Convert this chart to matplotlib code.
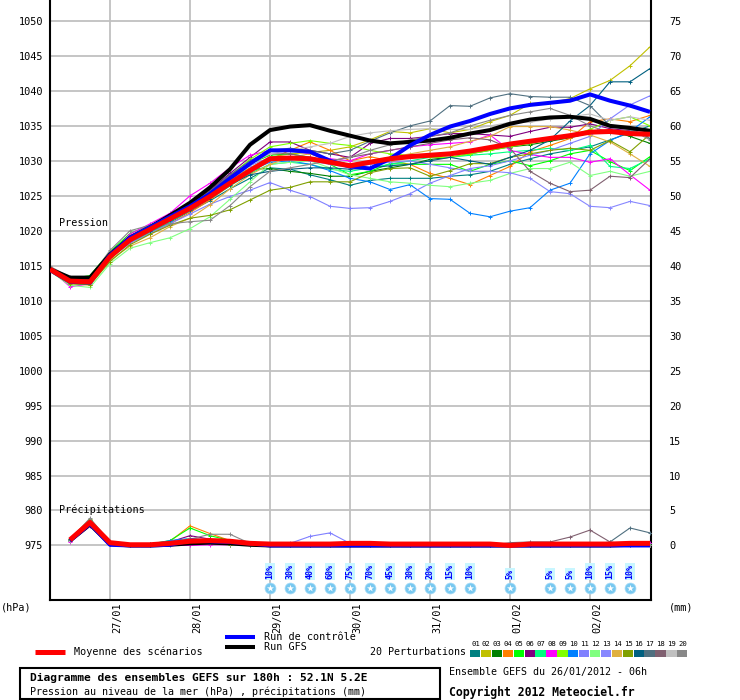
import matplotlib
matplotlib.use('Agg')
import matplotlib.pyplot as plt
from matplotlib.transforms import blended_transform_factory, offset_copy
from matplotlib.patches import Rectangle

plt.rcParams['font.family'] = ['DejaVu Sans Mono', 'DejaVu Sans']

# ---------------- data ----------------
hours = [0, 6, 12, 18, 24, 30, 36, 42, 48, 54, 60, 66, 72, 78, 84, 90, 96, 102,
         108, 114, 120, 126, 132, 138, 144, 150, 156, 162, 168, 174, 180]
precip_hours = hours[1:]

date_hours = [18, 42, 66, 90, 114, 138, 162]
date_labels = ['27/01', '28/01', '29/01', '30/01', '31/01', '01/02', '02/02']

pressure_ticks = [975, 980, 985, 990, 995, 1000, 1005, 1010, 1015, 1020, 1025,
                  1030, 1035, 1040, 1045, 1050]
mm_ticks = [0, 5, 10, 15, 20, 25, 30, 35, 40, 45, 50, 55, 60, 65, 70, 75]

mean_p = [1014.5, 1012.8, 1012.7, 1016.3, 1018.7, 1020.2, 1021.7, 1023.2, 1024.9, 1026.8, 1028.6,
          1030.3, 1030.4, 1030.3, 1029.8, 1029.3, 1029.8, 1030.3, 1030.6, 1030.8, 1031.0,
          1031.4, 1031.9, 1032.4, 1032.8, 1033.2, 1033.6, 1034.1, 1034.2, 1033.9, 1033.8]
gfs_p = [1014.5, 1013.3, 1013.3, 1016.6, 1019.0, 1020.5, 1022.2, 1024.0, 1026.2, 1028.8, 1032.3,
         1034.4, 1034.9, 1035.1, 1034.3, 1033.6, 1032.9, 1032.5, 1032.7, 1032.9, 1033.3,
         1033.9, 1034.4, 1035.3, 1035.9, 1036.2, 1036.3, 1036.0, 1035.0, 1034.7, 1034.3]
ctrl_p = [1014.4, 1012.7, 1012.6, 1016.5, 1019.0, 1020.5, 1022.0, 1023.5, 1025.3, 1027.5, 1029.6,
          1031.5, 1031.5, 1031.3, 1030.0, 1029.2, 1028.9, 1030.3, 1032.2, 1033.7, 1034.9,
          1035.7, 1036.7, 1037.5, 1038.0, 1038.3, 1038.6, 1039.5, 1038.6, 1037.9, 1037.0]

p01 = [1014.3, 1012.6, 1012.5, 1016.0, 1018.5, 1019.8, 1021.2, 1022.8, 1024.3, 1026.0, 1027.5,
       1029.0, 1028.8, 1028.0, 1027.3, 1026.5, 1027.2, 1027.5, 1027.5, 1027.5, 1027.8,
       1028.0, 1028.5, 1029.5, 1030.3, 1031.0, 1031.5, 1032.0, 1033.0, 1034.0, 1035.0]
p02 = [1014.6, 1013.0, 1012.9, 1016.5, 1018.9, 1020.4, 1021.9, 1023.5, 1025.3, 1027.3, 1029.0,
       1030.5, 1031.0, 1031.2, 1031.5, 1032.0, 1033.0, 1034.2, 1034.0, 1034.6, 1034.0,
       1034.5, 1035.6, 1036.5, 1038.2, 1038.3, 1038.9, 1040.3, 1041.5, 1043.6, 1046.3]
p03 = [1014.4, 1012.9, 1013.2, 1016.8, 1019.3, 1020.6, 1022.0, 1023.4, 1025.0, 1026.8, 1028.8,
       1028.9, 1028.5, 1028.2, 1027.8, 1027.8, 1028.5, 1029.0, 1029.5, 1030.2, 1030.5,
       1031.0, 1031.5, 1032.0, 1032.3, 1032.8, 1033.3, 1034.0, 1034.3, 1033.5, 1032.5]
p04 = [1014.5, 1012.7, 1012.4, 1016.2, 1018.4, 1019.6, 1021.0, 1022.6, 1024.4, 1026.5, 1028.4,
       1030.2, 1031.5, 1032.7, 1031.5, 1030.0, 1030.6, 1030.0, 1029.5, 1028.2, 1027.5,
       1026.6, 1027.9, 1029.2, 1031.3, 1032.2, 1033.2, 1035.6, 1036.0, 1035.6, 1036.5]
p05 = [1014.7, 1013.1, 1013.6, 1017.0, 1019.6, 1020.8, 1022.2, 1023.6, 1025.4, 1027.6, 1029.6,
       1030.8, 1031.0, 1030.5, 1029.5, 1028.0, 1028.5, 1029.6, 1029.5, 1029.5, 1029.5,
       1028.5, 1029.5, 1030.0, 1029.3, 1030.0, 1031.0, 1031.5, 1029.9, 1028.6, 1030.6]
p06 = [1014.6, 1013.2, 1013.0, 1016.6, 1019.0, 1020.5, 1022.0, 1023.8, 1025.8, 1028.2, 1030.5,
       1032.7, 1032.7, 1031.5, 1031.0, 1030.5, 1032.5, 1033.2, 1033.2, 1033.5, 1033.9,
       1033.9, 1033.7, 1033.5, 1034.2, 1034.8, 1034.8, 1035.3, 1034.6, 1034.3, 1034.3]
p07 = [1014.4, 1012.5, 1012.3, 1016.0, 1018.3, 1019.8, 1021.3, 1022.9, 1024.6, 1026.4, 1028.2,
       1029.5, 1029.8, 1029.5, 1028.8, 1028.5, 1029.0, 1029.5, 1030.0, 1030.5, 1030.5,
       1030.8, 1031.0, 1031.3, 1031.5, 1031.8, 1031.5, 1032.2, 1029.2, 1028.9, 1030.3]
p08 = [1014.5, 1012.0, 1012.4, 1016.4, 1019.5, 1021.0, 1022.5, 1025.0, 1026.8, 1029.0, 1030.8,
       1031.5, 1031.5, 1031.0, 1030.3, 1030.0, 1031.0, 1031.5, 1032.0, 1032.3, 1032.5,
       1032.7, 1033.7, 1031.5, 1030.9, 1030.5, 1030.5, 1029.8, 1030.3, 1028.0, 1025.8]
p09 = [1014.6, 1012.9, 1012.8, 1016.6, 1019.1, 1020.5, 1022.0, 1023.6, 1025.5, 1027.9, 1030.2,
       1032.0, 1032.5, 1032.9, 1032.5, 1032.2, 1031.5, 1031.0, 1030.8, 1030.5, 1030.5,
       1031.0, 1031.5, 1032.0, 1032.5, 1033.0, 1033.5, 1034.5, 1035.8, 1036.3, 1035.0]
p10 = [1014.3, 1012.6, 1012.6, 1016.2, 1018.5, 1019.9, 1021.4, 1023.0, 1024.8, 1026.9, 1028.6,
       1029.8, 1030.0, 1029.5, 1028.6, 1027.5, 1027.0, 1025.9, 1026.6, 1024.6, 1024.5,
       1022.5, 1022.0, 1022.8, 1023.3, 1025.8, 1026.8, 1031.0, 1032.9, 1034.2, 1036.3]
p11 = [1014.4, 1012.7, 1012.6, 1016.1, 1018.2, 1019.6, 1021.0, 1022.4, 1023.8, 1024.9, 1025.8,
       1026.9, 1025.8, 1024.9, 1023.5, 1023.2, 1023.3, 1024.2, 1025.3, 1026.8, 1027.9,
       1028.9, 1029.3, 1030.0, 1030.8, 1031.5, 1032.5, 1033.5, 1036.0, 1038.0, 1039.3]
p12 = [1014.2, 1012.2, 1011.9, 1015.3, 1017.5, 1018.3, 1019.0, 1020.3, 1022.0, 1024.5, 1027.0,
       1029.5, 1029.8, 1030.0, 1029.0, 1028.0, 1027.5, 1027.0, 1026.8, 1026.5, 1026.3,
       1026.8, 1027.2, 1028.2, 1028.9, 1028.9, 1029.8, 1027.9, 1028.5, 1027.8, 1028.5]
p13 = [1014.5, 1012.8, 1012.7, 1016.4, 1018.8, 1020.3, 1021.8, 1023.3, 1025.0, 1027.2, 1029.3,
       1030.5, 1030.5, 1030.0, 1029.5, 1029.0, 1029.5, 1029.8, 1030.0, 1029.5, 1029.0,
       1028.5, 1028.5, 1028.3, 1027.5, 1025.6, 1025.3, 1023.5, 1023.3, 1024.2, 1023.6]
p14 = [1014.3, 1012.5, 1012.2, 1015.8, 1017.8, 1019.0, 1020.6, 1021.8, 1023.7, 1026.0, 1028.0,
       1029.5, 1030.5, 1031.0, 1030.0, 1029.5, 1030.0, 1030.5, 1031.0, 1031.5, 1032.0,
       1032.8, 1033.5, 1034.9, 1034.9, 1034.9, 1034.4, 1033.7, 1032.7, 1031.0, 1029.2]
p15 = [1014.2, 1012.4, 1012.3, 1015.6, 1018.0, 1019.5, 1020.8, 1021.8, 1022.2, 1023.0, 1024.4,
       1025.8, 1026.2, 1027.0, 1027.0, 1027.0, 1028.3, 1028.9, 1029.0, 1027.8, 1028.6,
       1029.6, 1029.6, 1030.5, 1031.0, 1031.5, 1031.8, 1031.5, 1032.9, 1031.3, 1033.8]
p16 = [1014.4, 1012.8, 1012.8, 1016.4, 1018.8, 1020.0, 1021.5, 1023.0, 1024.6, 1026.6, 1028.0,
       1028.5, 1028.8, 1029.0, 1029.0, 1028.8, 1029.0, 1029.3, 1029.5, 1030.0, 1030.5,
       1030.0, 1029.5, 1030.5, 1031.5, 1033.0, 1035.7, 1037.9, 1041.3, 1041.3, 1043.2]
p17 = [1014.6, 1013.0, 1013.0, 1016.8, 1019.2, 1020.7, 1022.2, 1023.8, 1025.7, 1028.0, 1030.0,
       1031.5, 1031.8, 1031.5, 1031.0, 1031.5, 1032.8, 1034.0, 1035.0, 1035.7, 1037.9,
       1037.8, 1039.0, 1039.6, 1039.2, 1039.1, 1039.1, 1037.9, 1035.0, 1034.7, 1033.2]
p18 = [1014.8, 1013.3, 1013.2, 1016.9, 1019.2, 1020.7, 1022.1, 1023.7, 1025.6, 1027.9, 1029.7,
       1031.0, 1031.0, 1030.5, 1030.0, 1030.5, 1031.0, 1031.5, 1032.0, 1032.5, 1033.0,
       1033.3, 1033.0, 1031.8, 1028.5, 1026.8, 1025.6, 1025.8, 1027.8, 1027.6, 1030.3]
p19 = [1014.7, 1013.1, 1013.1, 1016.7, 1019.2, 1020.6, 1022.0, 1023.6, 1025.4, 1027.6, 1029.6,
       1031.0, 1031.5, 1032.0, 1032.5, 1033.5, 1034.0, 1034.3, 1034.5, 1034.6, 1034.5,
       1034.5, 1035.0, 1035.5, 1035.5, 1036.0, 1036.3, 1036.7, 1035.8, 1036.3, 1035.8]
p20 = [1014.9, 1013.4, 1013.3, 1017.2, 1020.0, 1020.8, 1021.0, 1021.3, 1021.5, 1023.6, 1026.3,
       1028.5, 1029.0, 1029.5, 1030.0, 1030.5, 1031.5, 1032.3, 1033.0, 1033.5, 1034.0,
       1035.0, 1035.8, 1036.5, 1037.0, 1037.5, 1036.5, 1035.0, 1034.0, 1034.5, 1033.0]

mean_r = [0.8, 3.3, 0.4, 0.1, 0.1, 0.3, 0.6, 0.7, 0.6, 0.3, 0.2, 0.2, 0.2, 0.2, 0.3,
          0.3, 0.2, 0.2, 0.2, 0.2, 0.2, 0.2, 0.0, 0.2, 0.2, 0.2, 0.2, 0.2, 0.3, 0.3]
gfs_r = [0.7, 3.0, 0.2, 0.0, 0.0, 0.1, 0.3, 0.4, 0.3, 0.1, 0.0, 0.0, 0.0, 0.0, 0.0,
         0.0, 0.0, 0.0, 0.0, 0.0, 0.0, 0.0, 0.0, 0.0, 0.0, 0.0, 0.0, 0.0, 0.1, 0.1]
ctrl_r = [0.7, 3.1, 0.1, 0.0, 0.0, 0.1, 0.7, 0.6, 0.5, 0.3, 0.0, 0.0, 0.0, 0.0, 0.0,
          0.0, 0.0, 0.0, 0.0, 0.0, 0.0, 0.0, 0.0, 0.0, 0.0, 0.0, 0.0, 0.0, 0.0, 0.0]

r01 = [0.8, 3.5, 0.4, 0.0, 0.0, 0.2, 0.5, 0.4, 0.3, 0.0, 0.0, 0.0, 0.0, 0.0, 0.0,
       0.0, 0.0, 0.0, 0.0, 0.0, 0.0, 0.0, 0.0, 0.0, 0.0, 0.0, 0.0, 0.0, 0.0, 0.0]
r02 = [0.7, 3.2, 0.3, 0.0, 0.1, 0.3, 0.7, 0.6, 0.3, 0.0, 0.0, 0.0, 0.0, 0.0, 0.1,
       0.0, 0.0, 0.0, 0.0, 0.0, 0.0, 0.0, 0.0, 0.0, 0.0, 0.0, 0.0, 0.0, 0.0, 0.0]
r03 = [0.9, 3.7, 0.4, 0.0, 0.0, 0.3, 0.8, 0.9, 0.5, 0.1, 0.0, 0.0, 0.1, 0.1, 0.0,
       0.0, 0.0, 0.0, 0.0, 0.0, 0.0, 0.0, 0.0, 0.0, 0.0, 0.0, 0.0, 0.0, 0.1, 0.2]
r04 = [0.7, 3.2, 0.2, 0.0, 0.1, 0.6, 2.8, 1.7, 0.7, 0.1, 0.0, 0.0, 0.0, 0.0, 0.0,
       0.0, 0.0, 0.1, 0.0, 0.0, 0.0, 0.0, 0.0, 0.0, 0.0, 0.0, 0.0, 0.0, 0.1, 0.1]
r05 = [0.8, 3.6, 0.3, 0.0, 0.2, 0.7, 2.5, 1.4, 0.7, 0.2, 0.0, 0.0, 0.0, 0.1, 0.1,
       0.0, 0.0, 0.0, 0.0, 0.0, 0.0, 0.0, 0.0, 0.0, 0.0, 0.0, 0.0, 0.0, 0.0, 0.0]
r06 = [0.6, 3.0, 0.2, 0.0, 0.2, 0.5, 1.4, 0.9, 0.3, 0.0, 0.0, 0.0, 0.0, 0.0, 0.0,
       0.0, 0.0, 0.0, 0.0, 0.0, 0.0, 0.0, 0.0, 0.0, 0.0, 0.0, 0.0, 0.0, 0.0, 0.0]
r07 = [0.7, 3.3, 0.3, 0.0, 0.0, 0.2, 0.4, 0.4, 0.2, 0.0, 0.0, 0.1, 0.1, 0.2, 0.2,
       0.1, 0.0, 0.0, 0.0, 0.0, 0.0, 0.0, 0.0, 0.0, 0.0, 0.0, 0.0, 0.0, 0.0, 0.0]
r08 = [0.5, 2.8, 0.2, 0.0, 0.0, 0.0, 0.0, 0.1, 0.1, 0.0, 0.0, 0.0, 0.0, 0.0, 0.0,
       0.0, 0.0, 0.0, 0.0, 0.0, 0.0, 0.0, 0.0, 0.0, 0.0, 0.0, 0.2, 0.3, 0.3, 0.3]
r09 = [0.7, 3.4, 0.3, 0.0, 0.1, 0.4, 0.7, 0.6, 0.3, 0.0, 0.0, 0.0, 0.0, 0.0, 0.0,
       0.0, 0.0, 0.0, 0.1, 0.0, 0.0, 0.0, 0.0, 0.0, 0.0, 0.0, 0.0, 0.0, 0.0, 0.0]
r10 = [0.7, 3.1, 0.2, 0.0, 0.1, 0.7, 1.0, 0.7, 0.3, 0.0, 0.0, 0.0, 0.0, 0.0, 0.0,
       0.0, 0.0, 0.0, 0.0, 0.0, 0.0, 0.0, 0.0, 0.0, 0.0, 0.0, 0.0, 0.0, 0.0, 0.0]
r11 = [0.6, 2.9, 0.2, 0.0, 0.0, 0.2, 0.5, 0.3, 0.1, 0.0, 0.0, 0.3, 1.3, 1.8, 0.3,
       0.0, 0.0, 0.0, 0.0, 0.0, 0.0, 0.0, 0.0, 0.0, 0.0, 0.0, 0.0, 0.0, 0.0, 0.0]
r12 = [0.8, 3.3, 0.4, 0.0, 0.0, 0.1, 0.3, 0.3, 0.1, 0.0, 0.0, 0.0, 0.0, 0.0, 0.0,
       0.0, 0.0, 0.0, 0.0, 0.0, 0.0, 0.0, 0.0, 0.0, 0.0, 0.0, 0.0, 0.0, 0.0, 0.0]
r13 = [0.7, 3.2, 0.3, 0.0, 0.0, 0.2, 0.4, 0.5, 0.3, 0.0, 0.0, 0.0, 0.0, 0.0, 0.0,
       0.0, 0.0, 0.0, 0.0, 0.0, 0.0, 0.0, 0.0, 0.0, 0.0, 0.0, 0.0, 0.0, 0.0, 0.0]
r14 = [0.7, 3.0, 0.3, 0.0, 0.0, 0.3, 1.0, 0.7, 0.4, 0.1, 0.0, 0.0, 0.0, 0.0, 0.0,
       0.0, 0.2, 0.2, 0.0, 0.0, 0.0, 0.0, 0.0, 0.0, 0.0, 0.0, 0.0, 0.0, 0.0, 0.0]
r15 = [0.9, 3.8, 0.5, 0.0, 0.0, 0.2, 0.4, 0.3, 0.1, 0.0, 0.0, 0.0, 0.0, 0.0, 0.0,
       0.0, 0.0, 0.0, 0.0, 0.0, 0.0, 0.0, 0.0, 0.0, 0.0, 0.0, 0.0, 0.0, 0.0, 0.0]
r16 = [0.7, 3.3, 0.3, 0.0, 0.1, 0.3, 0.6, 0.5, 0.2, 0.0, 0.0, 0.0, 0.0, 0.0, 0.0,
       0.0, 0.0, 0.0, 0.0, 0.0, 0.0, 0.0, 0.0, 0.0, 0.0, 0.0, 0.0, 0.0, 0.1, 0.1]
r17 = [0.8, 3.4, 0.3, 0.0, 0.0, 0.2, 0.5, 0.4, 0.2, 0.0, 0.0, 0.0, 0.0, 0.0, 0.0,
       0.0, 0.0, 0.0, 0.0, 0.0, 0.0, 0.0, 0.0, 0.0, 0.0, 0.0, 0.1, 0.5, 2.5, 1.8]
r18 = [0.7, 3.2, 0.3, 0.0, 0.0, 0.2, 0.5, 0.4, 0.2, 0.0, 0.0, 0.0, 0.0, 0.0, 0.0,
       0.0, 0.0, 0.0, 0.0, 0.0, 0.0, 0.0, 0.4, 0.5, 0.5, 1.2, 2.2, 0.5, 0.1, 0.0]
r19 = [0.7, 3.3, 0.3, 0.0, 0.0, 0.2, 0.5, 0.4, 0.2, 0.0, 0.0, 0.0, 0.0, 0.0, 0.0,
       0.0, 0.0, 0.0, 0.0, 0.0, 0.0, 0.0, 0.0, 0.0, 0.0, 0.0, 0.0, 0.0, 0.0, 0.0]
r20 = [0.8, 3.9, 0.5, 0.0, 0.0, 0.3, 0.9, 1.6, 1.6, 0.3, 0.0, 0.0, 0.0, 0.0, 0.0,
       0.0, 0.0, 0.0, 0.0, 0.0, 0.0, 0.0, 0.0, 0.0, 0.0, 0.0, 0.0, 0.0, 0.0, 0.0]

member_labels = ['01', '02', '03', '04', '05', '06', '07', '08', '09', '10',
                 '11', '12', '13', '14', '15', '16', '17', '18', '19', '20']
member_colors = ['#008080', '#c0c000', '#008000', '#ff8000', '#00ff00', '#800080',
                 '#00ff80', '#ff00ff', '#80ff00', '#0080ff', '#8080ff', '#80ff80',
                 '#8888ff', '#e0b040', '#80a000', '#006080', '#507080', '#806070',
                 '#c0c0c0', '#888888']
pressures = [p01, p02, p03, p04, p05, p06, p07, p08, p09, p10,
             p11, p12, p13, p14, p15, p16, p17, p18, p19, p20]
precips = [r01, r02, r03, r04, r05, r06, r07, r08, r09, r10,
           r11, r12, r13, r14, r15, r16, r17, r18, r19, r20]

snow_hours = [66, 72, 78, 84, 90, 96, 102, 108, 114, 120, 126, 138, 150, 156, 162, 168, 174]
snow_pct = [10, 30, 40, 60, 75, 70, 45, 30, 20, 15, 10, 5, 5, 5, 10, 15, 10]

# ---------------- figure ----------------
W, H = 740, 700
fig = plt.figure(figsize=(W / 100, H / 100), dpi=100)
fig.patch.set_facecolor('white')

ax = fig.add_axes([50 / W, 100 / H, 601 / W, 600 / H])
ax.set_xlim(0, 180.3)
ymin, ymax = 967.2, 1053.0
ax.set_ylim(ymin, ymax)
ax.set_yticks(pressure_ticks)
ax.set_yticklabels([str(t) for t in pressure_ticks])
ax.set_xticks(date_hours)
ax.set_xticklabels([])
ax.tick_params(axis='both', length=0)
ax.tick_params(axis='y', labelsize=7.4, pad=5)
ax.grid(True, color='#c0c0c0', lw=1.3)
ax.set_axisbelow(True)
for s in ['left', 'bottom', 'right']:
    ax.spines[s].set_linewidth(1.5)
    ax.spines[s].set_color('black')
ax.spines['top'].set_visible(False)

ax2 = ax.twinx()
ax2.set_ylim(ymin - 975, ymax - 975)
ax2.set_yticks(mm_ticks)
ax2.set_yticklabels([str(t) for t in mm_ticks])
ax2.tick_params(axis='y', length=0, labelsize=7.4, pad=13)
for s in ax2.spines.values():
    s.set_visible(False)

# perturbations
for vals, rr, c in zip(pressures, precips, member_colors):
    ax.plot(hours, vals, color=c, lw=0.8, marker='+', ms=3, mew=0.7, zorder=2)
    ax2.plot(precip_hours, rr, color=c, lw=0.8, marker='+', ms=3, mew=0.7, zorder=2)

ax.plot(hours, gfs_p, color='black', lw=2.9, zorder=3, solid_capstyle='butt')
ax.plot(hours, ctrl_p, color='#0000ff', lw=2.9, zorder=4, solid_capstyle='butt')
ax.plot(hours, mean_p, color='#ff0000', lw=3.6, zorder=5, solid_capstyle='butt')
ax2.plot(precip_hours, gfs_r, color='black', lw=2.9, zorder=3, solid_capstyle='butt')
ax2.plot(precip_hours, ctrl_r, color='#0000ff', lw=2.9, zorder=4, solid_capstyle='butt')
ax2.plot(precip_hours, mean_r, color='#ff0000', lw=3.6, zorder=5, solid_capstyle='butt')

# date labels
tr_dates = offset_copy(ax.get_xaxis_transform(), fig=fig, x=7, y=-2, units='dots')
for h, lab in zip(date_hours, date_labels):
    ax.text(h, 0, lab, transform=tr_dates, rotation=90, ha='center', va='top',
            fontsize=7.3, clip_on=False)

# snow probability indicators
trs = blended_transform_factory(ax.transData, ax.transAxes)
for h, pct in zip(snow_hours, snow_pct):
    ax.text(h, 21 / 600, f'{pct}%', transform=trs, rotation=90, ha='center', va='bottom',
            fontsize=6, color='#0000ff', fontweight='bold', zorder=6,
            bbox=dict(facecolor='#c8f6ff', edgecolor='none', pad=0.6))
    ax.scatter([h], [12 / 600], transform=trs, s=62, color='#78c8f0', zorder=6,
               edgecolors='#a8dcf8', linewidths=0.5)
    ax.scatter([h], [12 / 600], transform=trs, s=28, marker='*', color='white',
               zorder=7, linewidths=0)

# ---------------- overlay (pixel coordinates) ----------------
ov = fig.add_axes([0, 0, 1, 1])
ov.set_xlim(0, W)
ov.set_ylim(H, 0)
ov.axis('off')

ov.text(59, 223, 'Pression', va='center', ha='left', fontsize=7.3)
ov.text(59, 510, 'Précipitations', va='center', ha='left', fontsize=7.3)
ov.text(1, 607, '(hPa)', va='center', ha='left', fontsize=7.3)
ov.text(669, 607, '(mm)', va='center', ha='left', fontsize=7.3)

ov.plot([35, 65], [652, 652], color='#ff0000', lw=3.6, solid_capstyle='butt')
ov.text(74, 652, 'Moyenne des scénarios', va='center', ha='left', fontsize=7.3)
ov.plot([225, 255], [637, 637], color='#0000ff', lw=2.9, solid_capstyle='butt')
ov.text(264, 637, 'Run de contrôle', va='center', ha='left', fontsize=7.3)
ov.plot([225, 255], [646.5, 646.5], color='black', lw=2.9, solid_capstyle='butt')
ov.text(264, 647, 'Run GFS', va='center', ha='left', fontsize=7.3)
ov.text(370, 652, '20 Perturbations', va='center', ha='left', fontsize=7.2)

sw = 10.9
for k, (lab, c) in enumerate(zip(member_labels, member_colors)):
    ov.add_patch(Rectangle((470 + k * sw, 650), sw - 0.6, 7, facecolor=c, edgecolor='none'))
    ov.text(470 + k * sw + sw / 2, 644, lab, va='center', ha='center', fontsize=5.2)

ov.add_patch(Rectangle((20, 668), 420, 31, fill=False, edgecolor='black', lw=1.5))
ov.text(30, 677.5, 'Diagramme des ensembles GEFS sur 180h : 52.1N 5.2E', va='center',
        ha='left', fontsize=8.1, fontweight='bold')
ov.text(30, 692, 'Pression au niveau de la mer (hPa) , précipitations (mm)', va='center',
        ha='left', fontsize=7.2)
ov.text(449, 672, 'Ensemble GEFS du 26/01/2012 - 06h', va='center', ha='left', fontsize=7.2)
ov.text(449, 692, 'Copyright 2012 Meteociel.fr', va='center', ha='left', fontsize=8.3,
        fontweight='bold')

fig.savefig('out.png', dpi=100, facecolor='white')
